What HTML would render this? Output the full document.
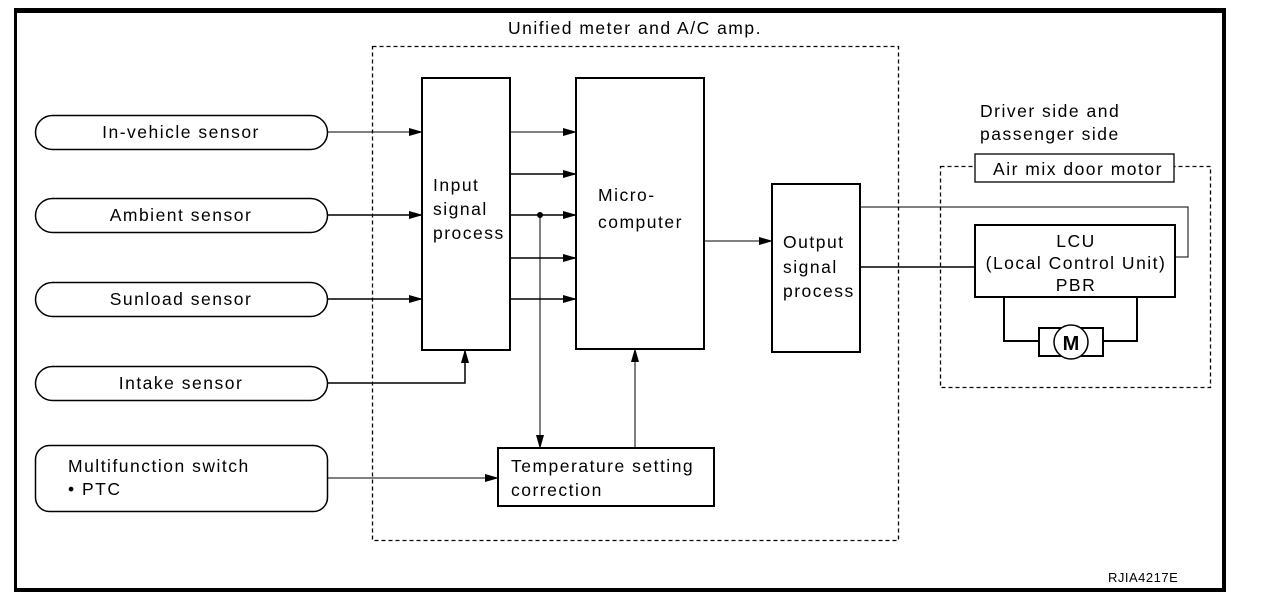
<!DOCTYPE html>
<html><head><meta charset="utf-8"><style>
html,body{margin:0;padding:0;background:#fff;}
svg{display:block;}
text{font-family:"Liberation Sans",Arial,sans-serif;font-size:17.5px;letter-spacing:1.5px;fill:#000;}
</style></head><body>
<svg width="1264" height="604" viewBox="0 0 1264 604" xmlns="http://www.w3.org/2000/svg">
<defs>
<marker id="a" markerWidth="14" markerHeight="8" refX="13" refY="4" orient="auto" markerUnits="userSpaceOnUse">
<path d="M0,0 L14,4 L0,8 z" fill="#000"/></marker>
</defs>
<path d="M15.5,591 L15.5,10.5 L1224,10.5 L1224,589.5 L15.5,589.5" fill="none" stroke="#000" stroke-width="3"/>
<rect x="14" y="8" width="1212" height="5" fill="#000"/>
<rect x="1222" y="8" width="4" height="584" fill="#000"/>
<rect x="14" y="588" width="1212" height="4" fill="#000"/>
<rect x="372.5" y="46.5" width="526" height="494" fill="none" stroke="#000" stroke-width="1.3" stroke-dasharray="4,3"/>
<text x="635" y="34" text-anchor="middle">Unified meter and A/C amp.</text>
<g fill="none" stroke="#000" stroke-width="1.5">
<rect x="35.5" y="115.5" width="292" height="34" rx="17"/>
<rect x="35.5" y="198.5" width="292" height="34" rx="17"/>
<rect x="35.5" y="282.5" width="292" height="34" rx="17"/>
<rect x="35.5" y="366.5" width="292" height="34" rx="17"/>
<rect x="35.5" y="445.5" width="292" height="66" rx="14"/>
</g>
<text x="181" y="138" text-anchor="middle">In-vehicle sensor</text>
<text x="181" y="221" text-anchor="middle">Ambient sensor</text>
<text x="181" y="305" text-anchor="middle">Sunload sensor</text>
<text x="181" y="389" text-anchor="middle">Intake sensor</text>
<text x="68" y="472">Multifunction switch</text>
<text x="68" y="495">• PTC</text>
<g fill="none" stroke="#000" stroke-width="2">
<rect x="422" y="78" width="88" height="272"/>
<rect x="576" y="78" width="128" height="271"/>
<rect x="772" y="184" width="88" height="168"/>
<rect x="498" y="448" width="216" height="58"/>
</g>
<text x="433" y="191">Input</text>
<text x="433" y="215">signal</text>
<text x="433" y="239">process</text>
<text x="598" y="201">Micro-</text>
<text x="598" y="228">computer</text>
<text x="783" y="248">Output</text>
<text x="783" y="273">signal</text>
<text x="783" y="297">process</text>
<text x="511" y="472">Temperature setting</text>
<text x="511" y="496">correction</text>
<g fill="none" stroke="#000" stroke-width="1.5" marker-end="url(#a)">
<path d="M327,132 H422" stroke-width="1"/>
<path d="M327,215 H422"/>
<path d="M327,299 H422"/>
<path d="M327,383 H465 V350"/>
<path d="M510,132 H576" stroke-width="1"/>
<path d="M510,174 H576"/>
<path d="M510,215 H576"/>
<path d="M510,258 H576"/>
<path d="M510,299 H576"/>
<path d="M540,215 V448" stroke-width="1"/>
<path d="M635,448 V349" stroke-width="1"/>
<path d="M327,478 H498" stroke-width="1"/>
<path d="M704,241 H772" stroke-width="1"/>
</g>
<circle cx="540" cy="215" r="3" fill="#000"/>
<text x="980" y="117">Driver side and</text>
<text x="980" y="140">passenger side</text>
<rect x="940.5" y="166.5" width="270" height="221" fill="none" stroke="#000" stroke-width="1.3" stroke-dasharray="4,3"/>
<rect x="975" y="154" width="199" height="28" fill="#fff" stroke="#000" stroke-width="1.3"/>
<text x="1078" y="175" text-anchor="middle">Air mix door motor</text>
<path d="M860,207 H1188 V257 H1176" fill="none" stroke="#000" stroke-width="1"/>
<path d="M860,267 H975" fill="none" stroke="#000" stroke-width="1.5"/>
<rect x="975" y="225" width="200" height="72" fill="#fff" stroke="#000" stroke-width="2"/>
<text x="1076" y="247" text-anchor="middle">LCU</text>
<text x="1076" y="269" text-anchor="middle">(Local Control Unit)</text>
<text x="1076" y="291" text-anchor="middle">PBR</text>
<path d="M1004,297 V341 H1038 M1137,297 V341 H1104" fill="none" stroke="#000" stroke-width="2"/>
<rect x="1039" y="328" width="64" height="28" fill="#fff" stroke="#000" stroke-width="2"/>
<circle cx="1071" cy="342" r="17" fill="#fff" stroke="#000" stroke-width="1.5"/>
<text x="1071" y="350" text-anchor="middle" style="font-size:20px;font-weight:bold;letter-spacing:0">M</text>
<text x="1108" y="582" style="font-size:13px;letter-spacing:0.5px">RJIA4217E</text>
</svg>
</body></html>
